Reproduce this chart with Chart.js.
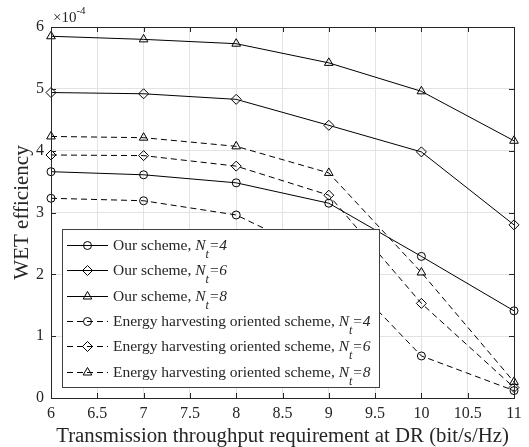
<!DOCTYPE html>
<html lang="en">
<head>
  <meta charset="UTF-8">
  <title>WET efficiency</title>
  <script src="https://cdn.jsdelivr.net/npm/chart.js"></script>
  <style>
    body { margin: 0; background: #fff; }
    #box { width: 529px; height: 447px; }
  </style>
</head>
<body>
<div id="box">
  <canvas id="myChart"></canvas>
</div>
<script>
// values are in units of 1e-4
const rates = [6, 7, 8, 9, 10, 11];
const oursNt4 = [3.66, 3.61, 3.48, 3.15, 2.29, 1.41];
const oursNt6 = [4.94, 4.92, 4.83, 4.41, 3.98, 2.80];
const oursNt8 = [5.85, 5.80, 5.73, 5.42, 4.96, 4.16];
const ehNt4 = [3.23, 3.19, 2.96, 2.24, 0.68, 0.12];
const ehNt6 = [3.93, 3.92, 3.75, 3.28, 1.53, 0.17];
const ehNt8 = [4.23, 4.21, 4.07, 3.64, 2.03, 0.26];
const seriesNames = ['Our scheme, ', 'Our scheme, ', 'Our scheme, ',
  'Energy harvesting oriented scheme, ', 'Energy harvesting oriented scheme, ', 'Energy harvesting oriented scheme, '];
const antennas = ['4', '6', '8', '4', '6', '8'];
const xTicks = [6, 6.5, 7, 7.5, 8, 8.5, 9, 9.5, 10, 10.5, 11];
const yTicks = [0, 1, 2, 3, 4, 5, 6];

const serif = "'Liberation Serif', 'Times New Roman', serif";
const ink = '#262626';

function pts(vals) {
  return rates.map((r, i) => ({ x: r, y: vals[i] }));
}

function ds(vals, style, dashed, i) {
  return {
    label: seriesNames[i] + 'Nt=' + antennas[i],
    data: pts(vals),
    borderColor: '#000',
    borderWidth: 1,
    borderDash: dashed ? [6, 4] : [],
    pointStyle: style,
    pointRadius: style === 'circle' ? 4 : 5,
    pointBorderWidth: 1,
    pointBorderColor: '#000',
    pointBackgroundColor: 'rgba(0,0,0,0)',
    tension: 0,
    clip: false
  };
}

const data = {
  datasets: [
    ds(oursNt4, 'circle', false, 0),
    ds(oursNt6, 'rectRot', false, 1),
    ds(oursNt8, 'triangle', false, 2),
    ds(ehNt4, 'circle', true, 3),
    ds(ehNt6, 'rectRot', true, 4),
    ds(ehNt8, 'triangle', true, 5)
  ]
};

// box, inward ticks, exponent label and the legend
const decor = {
  id: 'decor',
  afterDatasetsDraw(chart) {
    const ctx = chart.ctx;
    const a = chart.chartArea;
    const xs = chart.scales.x, ys = chart.scales.y;
    ctx.save();
    ctx.strokeStyle = ink;
    ctx.lineWidth = 1;
    ctx.beginPath();
    xTicks.forEach(v => {
      const px = Math.round(xs.getPixelForValue(v)) + 0.5;
      ctx.moveTo(px, a.bottom); ctx.lineTo(px, a.bottom - 5);
      ctx.moveTo(px, a.top); ctx.lineTo(px, a.top + 5);
    });
    yTicks.forEach(v => {
      const py = Math.round(ys.getPixelForValue(v)) + 0.5;
      ctx.moveTo(a.left, py); ctx.lineTo(a.left + 5, py);
      ctx.moveTo(a.right, py); ctx.lineTo(a.right - 5, py);
    });
    ctx.stroke();
    ctx.strokeRect(Math.round(a.left) + 0.5, Math.round(a.top) + 0.5,
      Math.round(a.right - a.left), Math.round(a.bottom - a.top));

    // x10^-4
    ctx.fillStyle = ink;
    ctx.textBaseline = 'alphabetic';
    ctx.textAlign = 'left';
    ctx.font = '15px ' + serif;
    ctx.fillText('\u00d710', a.left + 2, a.top - 5);
    const w10 = ctx.measureText('\u00d710').width;
    ctx.font = '11px ' + serif;
    ctx.fillText('-4', a.left + 2 + w10, a.top - 13);

    // legend
    const lx = 62, ly = 229, lw = 317, lh = 158;
    ctx.fillStyle = '#fff';
    ctx.fillRect(lx, ly, lw, lh);
    ctx.strokeStyle = '#404040';
    ctx.strokeRect(lx + 0.5, ly + 0.5, lw, lh);
    chart.data.datasets.forEach((d, i) => {
      const cy = 245 + i * 25.3;
      ctx.strokeStyle = '#000';
      ctx.lineWidth = 1;
      ctx.setLineDash(d.borderDash);
      ctx.beginPath();
      ctx.moveTo(67, Math.round(cy) + 0.5);
      ctx.lineTo(108, Math.round(cy) + 0.5);
      ctx.stroke();
      ctx.setLineDash([]);
      ctx.fillStyle = 'rgba(0,0,0,0)';
      Chart.helpers.drawPoint(ctx, {
        pointStyle: d.pointStyle, radius: d.pointRadius, rotation: 0, borderWidth: 1
      }, 87.5, Math.round(cy) + 0.5);
      // label text with italic N and subscript t
      ctx.fillStyle = ink;
      ctx.textBaseline = 'alphabetic';
      let tx = 113;
      const base = cy + 5;
      ctx.font = '15.5px ' + serif;
      ctx.fillText(seriesNames[i], tx, base);
      tx += ctx.measureText(seriesNames[i]).width;
      ctx.font = 'italic 15.5px ' + serif;
      ctx.fillText('N', tx, base);
      tx += ctx.measureText('N').width;
      ctx.font = 'italic 12px ' + serif;
      ctx.fillText('t', tx, base + 8);
      tx += ctx.measureText('t').width;
      ctx.font = 'italic 15.5px ' + serif;
      ctx.fillText('=' + antennas[i], tx, base);
    });
    ctx.restore();
  }
};

const config = {
  type: 'line',
  data: data,
  options: {
    responsive: true,
    maintainAspectRatio: false,
    animation: false,
    devicePixelRatio: 1,
    layout: { padding: { top: 27, right: 15, left: 0, bottom: 0 } },
    plugins: {
      legend: { display: false },
      tooltip: { enabled: false }
    },
    scales: {
      x: {
        type: 'linear',
        min: 6,
        max: 11,
        afterBuildTicks: s => { s.ticks = xTicks.map(v => ({ value: v })); },
        afterFit: s => { s.height = 49; },
        grid: { color: '#e3e3e3', drawTicks: false },
        border: { display: false },
        ticks: {
          autoSkip: false, maxRotation: 0, padding: 6, color: ink,
          font: { family: serif, size: 16 },
          callback: v => String(v)
        },
        title: {
          display: true,
          text: 'Transmission throughput requirement at DR (bit/s/Hz)',
          color: ink,
          font: { family: serif, size: 20.8, lineHeight: 1 },
          padding: { top: 0, bottom: 0 }
        }
      },
      y: {
        min: 0,
        max: 6,
        afterBuildTicks: s => { s.ticks = yTicks.map(v => ({ value: v })); },
        afterFit: s => { s.width = 51; },
        grid: { color: '#e3e3e3', drawTicks: false },
        border: { display: false },
        ticks: {
          padding: 7, color: ink,
          font: { family: serif, size: 16 },
          callback: v => String(v)
        },
        title: {
          display: true,
          text: 'WET efficiency',
          color: ink,
          font: { family: serif, size: 21, lineHeight: 1 },
          padding: { top: 12, bottom: 0 }
        }
      }
    }
  },
  plugins: [decor]
};

const myChart = new Chart(document.getElementById('myChart'), config);
</script>
</body>
</html>
